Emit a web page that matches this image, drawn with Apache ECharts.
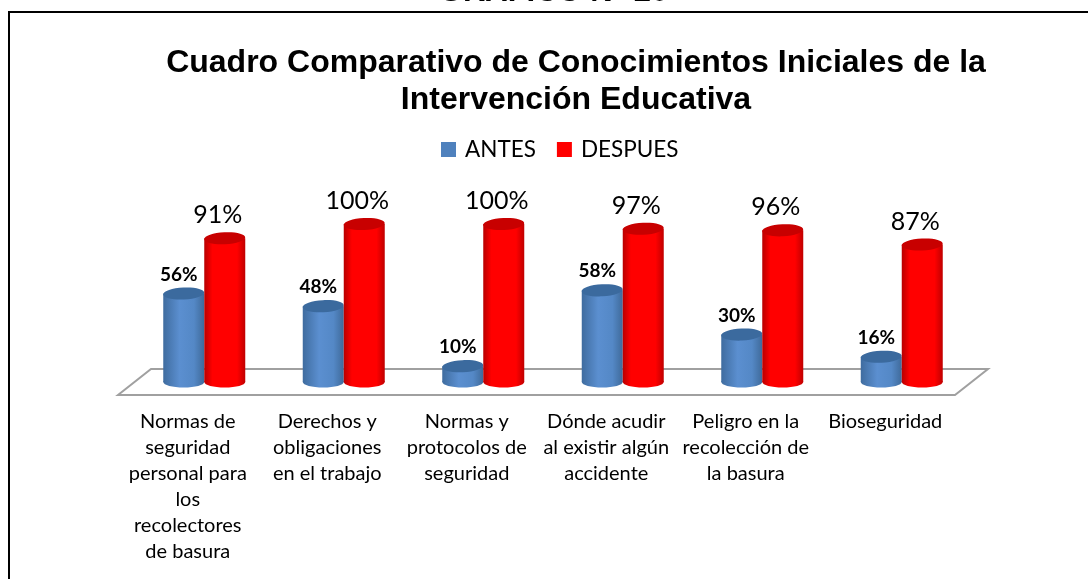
<!DOCTYPE html>
<html><head><meta charset="utf-8">
<style>html,body{margin:0;padding:0;background:#fff}#c{width:1088px;height:579px}</style>
<script src="https://cdn.jsdelivr.net/npm/echarts@6/dist/echarts.min.js"></script>
</head><body><div id="c"></div>
<script>
const categories = [
  "Normas de\nseguridad\npersonal para\nlos\nrecolectores\nde basura",
  "Derechos y\nobligaciones\nen el trabajo",
  "Normas y\nprotocolos de\nseguridad",
  "Dónde acudir\nal existir algún\naccidente",
  "Peligro en la\nrecolección de\nla basura",
  "Bioseguridad"
];
const antes = [56, 48, 10, 58, 30, 16];
const despues = [91, 100, 100, 97, 96, 87];

const DEPTH_X = 33, DEPTH_Y = 26;
const FONT = 'Lato, "Open Sans", sans-serif';

function cylinder(style) {
  return function (params, api) {
    const idx = api.value(0);
    const base = api.coord([idx, 0]);
    const top = api.coord([idx, api.value(1)]);
    const cx = base[0] + DEPTH_X / 2 + style.dx;
    const dy = DEPTH_Y / 2;
    const y0 = base[1] - dy, y1 = top[1] - dy;
    const rx = 20.5;
    const grad = {type:'linear',x:0,y:0,x2:1,y2:0,colorStops:style.stops};
    return {type:'group',children:[
      {type:'ellipse',shape:{cx:cx,cy:y0,rx:rx,ry:5.5},style:{fill:grad}},
      {type:'rect',shape:{x:cx-rx,y:y1,width:rx*2,height:y0-y1},style:{fill:grad}},
      {type:'ellipse',shape:{cx:cx,cy:y1,rx:rx,ry:6},rotation:0.05,originX:cx,originY:y1,style:{fill:style.cap}},
      {type:'text',style:{text:api.value(1)+'%',x:cx+style.lx,y:y1+style.ly,
        textAlign:'center',textVerticalAlign:'middle',fill:'#000',
        font:style.font}}
    ]};
  };
}

const chart = echarts.init(document.getElementById('c'), null, {renderer:'canvas'});
chart.setOption({
  animation:false,
  backgroundColor:'#fff',
  title:{
    text:'Cuadro Comparativo de Conocimientos Iniciales de la\nIntervención Educativa',
    left:571,top:40,textAlign:'center',
    textStyle:{fontFamily:'"Liberation Sans",Arial,sans-serif',fontWeight:'bold',fontSize:32,lineHeight:37,color:'#000'}
  },
  legend:{
    left:436,top:133,itemWidth:15,itemHeight:15,itemGap:21,
    icon:'rect',
    data:['ANTES','DESPUES'],
    textStyle:{fontFamily:FONT,fontSize:22.5,color:'#000',padding:[0,0,0,4]}
  },
  grid:{left:118,right:133,top:237,height:158},
  xAxis:{type:'category',data:categories,
    axisLine:{show:false},axisTick:{show:false},
    axisLabel:{interval:0,margin:14,fontFamily:FONT,fontSize:20,lineHeight:26,color:'#000',verticalAlign:'top'}},
  yAxis:{type:'value',min:0,max:100,show:false,splitLine:{show:false}},
  graphic:[
    {type:'text',z:50,style:{text:'GRÁFICO N° 20',x:553.5,y:7.5,textAlign:'center',textVerticalAlign:'bottom',font:'bold 31px "Liberation Sans",Arial,sans-serif',fill:'#000'}},
    {type:'polyline',z:50,shape:{points:[[9,579],[9,12],[1088,12]]},style:{fill:'none',stroke:'#000',lineWidth:2}}
  ],
  series:[
    {type:'custom',name:'floor',silent:true,z:1,data:[[0]],encode:{x:0},
     renderItem:function(params){
       const g=params.coordSys;
       const l=g.x,r=g.x+g.width,b=g.y+g.height;
       return {type:'polygon',shape:{points:[[l,b],[l+DEPTH_X,b-DEPTH_Y],[r+DEPTH_X,b-DEPTH_Y],[r,b]]},
         style:{fill:'#fff',stroke:'#a0a0a0',lineWidth:2}};
     }},
    {type:'custom',name:'ANTES',z:2,itemStyle:{color:'#4f81bd'},
     data:antes.map((v,i)=>[i,v]),encode:{x:0,y:1},
     renderItem:cylinder({dx:-20.5,lx:-5,ly:-19,cap:'#3b6a9e',
       stops:[{offset:0,color:'#3f6c9f'},{offset:.4,color:'#5b8fd0'},{offset:.75,color:'#5488c6'},{offset:1,color:'#3f6a9a'}],
       font:'bold 19px '+FONT})},
    {type:'custom',name:'DESPUES',z:3,itemStyle:{color:'#ff0000'},
     data:despues.map((v,i)=>[i,v]),encode:{x:0,y:1},
     renderItem:cylinder({dx:20.5,lx:-7,ly:-23,cap:'#c80000',
       stops:[{offset:0,color:'#b80000'},{offset:.2,color:'#ff0000'},{offset:.8,color:'#ff0000'},{offset:1,color:'#c00000'}],
       font:'25px '+FONT})}
  ]
});
</script></body></html>
